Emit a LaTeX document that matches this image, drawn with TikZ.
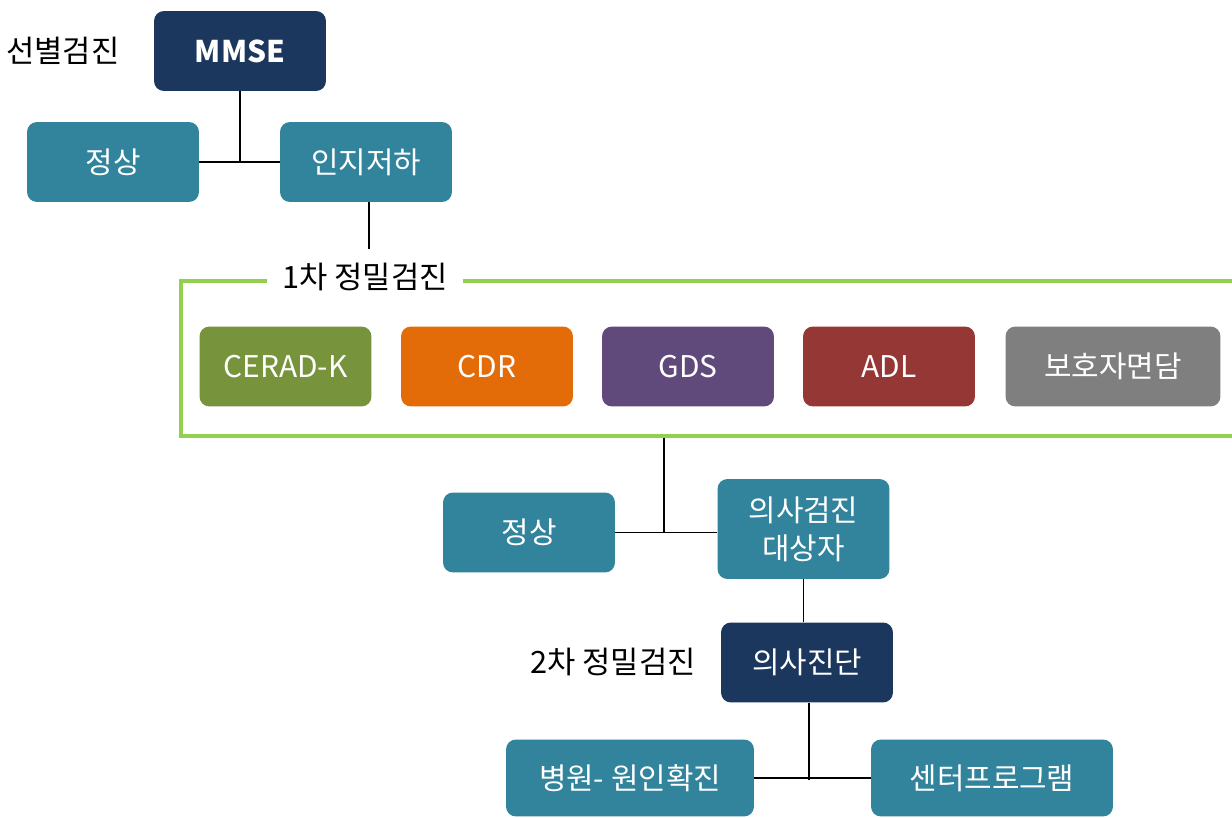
\documentclass[tikz,border=0pt]{standalone}
\usepackage{fontspec}
\setmainfont{Noto Sans CJK KR}
\usepackage{tikz}
\usetikzlibrary{positioning}
\definecolor{navy}{HTML}{1B375E}
\definecolor{teal}{HTML}{31849B}
\definecolor{olive}{HTML}{77933C}
\definecolor{orange}{HTML}{E36C09}
\definecolor{purple}{HTML}{604A7B}
\definecolor{brick}{HTML}{953735}
\definecolor{greyish}{HTML}{7F7F7F}
\definecolor{lime}{HTML}{92D050}
\tikzstyle{box} = [rounded corners=0.2cm, text=white, align=center, minimum width=3.44cm, minimum height=1.6cm, font=\fontsize{17}{21.6}\selectfont]
\tikzstyle{tag} = [text=black, font=\fontsize{17.5}{21}\selectfont]
\tikzset{
  link/.style ={draw, line width=0.8pt, black}
}

\begin{document}
\begin{tikzpicture}[x=0.02cm,y=-0.02cm]
  \clip (0,0) rectangle (1232,818);
  \useasboundingbox (0,0) rectangle (1232,818);

  \node[box,fill=navy,font=\fontsize{17}{21.6}\selectfont\bfseries] (mmse) at (240,51) {MMSE};
  \node[tag] (screen) at (63,51) {선별검진};
  \node[box,fill=teal] (normal) at (113,162) {정상};
  \node[box,fill=teal] (decline) at (366,162) {인지저하};
  \coordinate (stub) at (369,249);

  \node[draw=lime, line width=2pt, minimum width=21.38cm, minimum height=3.1cm] (frame) at (715.5,358.5) {};
  \node[tag,fill=white,inner xsep=0.3cm] (first) at (365,277) {1차 정밀검진};

  \node[box,fill=olive] (cerad) at (285.5,366.5) {CERAD-K};
  \node[box,fill=orange] (cdr) at (487,366.5) {CDR};
  \node[box,fill=purple] (gds) at (688,366.5) {GDS};
  \node[box,fill=brick] (adl) at (889,366.5) {ADL};
  \node[box,fill=greyish,minimum width=4.3cm] (carer) at (1113,366.5) {보호자면담};

  \node[box,fill=teal] (normalb) at (529,532.5) {정상};
  \node[box,fill=teal,minimum height=2cm] (doctor) at (803.5,529) {의사검진\\대상자};
  \coordinate (junction) at (664,533);

  \node[box,fill=navy] (diag) at (807,662.5) {의사진단};
  \node[tag] (second) at (613,662) {2차 정밀검진};

  \node[box,fill=teal,minimum width=4.96cm,minimum height=1.54cm] (hospital) at (630,778) {병원- 원인확진};
  \node[box,fill=teal,minimum width=4.84cm,minimum height=1.54cm] (center) at (992,778) {센터프로그램};
  \coordinate (fork) at (809,780);

  \begin{scope}[every path/.style=link]
    \path (mmse) -- (mmse |- normal);
    \path (normal) -- (decline);
    \path (decline.south -| stub) -- (stub);
    \path (frame.south -| junction) -- (junction);
    \path (normalb) -- (doctor.west |- normalb);
    \path (doctor.south) -- (doctor.south |- diag.north);
    \path (diag.south -| fork) -- (fork);
    \path (hospital.east) -- (center.west);
  \end{scope}

\end{tikzpicture}
\end{document}
